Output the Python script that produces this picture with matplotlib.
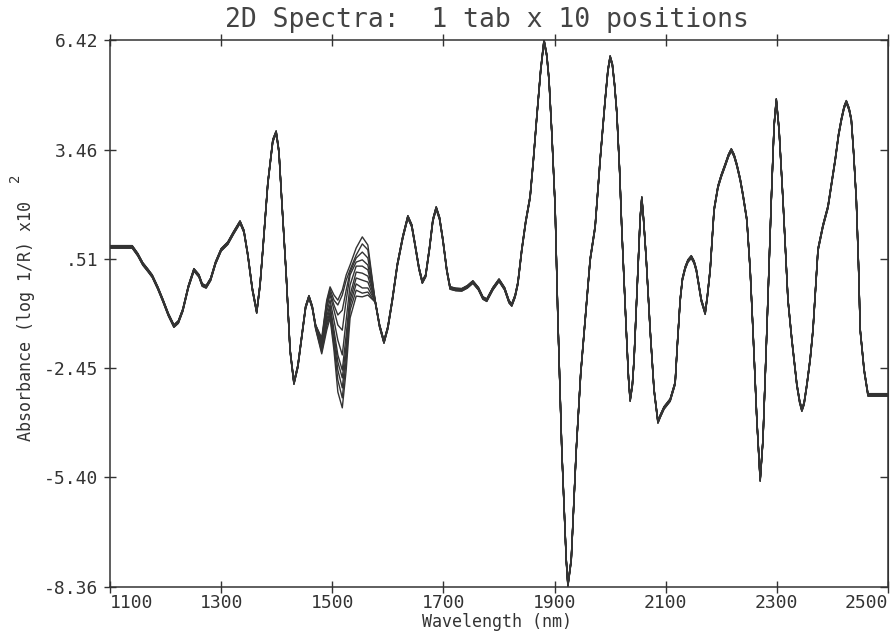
import numpy as np
import matplotlib
matplotlib.use("Agg")
import matplotlib.pyplot as plt

# shared part of the 10 spectra, before the 1470-1577 nm region
nm_left = [1100, 1140, 1150, 1159, 1168, 1176, 1186, 1195, 1205, 1215,
           1223, 1231, 1241, 1251, 1260, 1266, 1273, 1281, 1290, 1300,
           1312, 1322, 1334, 1341, 1348, 1356, 1364, 1370, 1375, 1384,
           1393, 1399, 1404, 1409, 1417, 1424, 1431, 1438, 1445, 1452,
           1458, 1464]
abs_left = [0.83, 0.83, 0.62, 0.37, 0.20, 0.04, -0.28, -0.61, -1.00, -1.31,
            -1.20, -0.88, -0.25, 0.21, 0.05, -0.20, -0.25, -0.05, 0.40, 0.75,
            0.93, 1.20, 1.50, 1.25, 0.61, -0.30, -0.93, -0.20, 0.75, 2.55,
            3.70, 3.93, 3.40, 2.10, 0.10, -1.96, -2.85, -2.40, -1.60, -0.80,
            -0.52, -0.80]

# region where the positions differ
nm_mid = [1470, 1481, 1490, 1496, 1503, 1510, 1518, 1525, 1532, 1543, 1554, 1564, 1577]
pos1 = [-1.28, -1.63, -0.61, -0.25, -0.47, -0.61, -0.34, 0.07, 0.34, 0.80, 1.10, 0.88, -0.61]
pos2 = [-1.28, -1.69, -0.66, -0.31, -0.61, -0.74, -0.47, -0.07, 0.21, 0.61, 0.91, 0.75, -0.61]
pos3 = [-1.28, -1.71, -0.74, -0.39, -0.74, -1.01, -0.88, -0.34, 0.15, 0.53, 0.69, 0.53, -0.61]
pos4 = [-1.31, -1.74, -0.82, -0.47, -0.88, -1.28, -1.42, -0.61, 0.07, 0.42, 0.48, 0.34, -0.61]
pos5 = [-1.31, -1.79, -0.93, -0.61, -1.15, -1.69, -2.09, -1.15, -0.20, 0.31, 0.31, 0.21, -0.61]
pos6 = [-1.33, -1.85, -1.04, -0.74, -1.42, -2.09, -2.50, -1.55, -0.47, 0.15, 0.12, 0.04, -0.61]
pos7 = [-1.33, -1.90, -1.15, -0.82, -1.55, -2.28, -2.71, -1.82, -0.61, -0.01, -0.07, -0.12, -0.63]
pos8 = [-1.36, -1.96, -1.23, -0.93, -1.69, -2.50, -2.98, -2.01, -0.74, -0.17, -0.28, -0.28, -0.63]
pos9 = [-1.36, -2.01, -1.31, -1.01, -1.82, -2.77, -3.25, -2.23, -0.88, -0.34, -0.42, -0.39, -0.66]
pos10 = [-1.39, -2.06, -1.42, -1.09, -1.96, -3.09, -3.52, -2.50, -1.09, -0.50, -0.52, -0.47, -0.66]
positions = [pos1, pos2, pos3, pos4, pos5, pos6, pos7, pos8, pos9, pos10]

# shared part after the region
nm_right = [1585, 1593, 1600, 1608, 1617, 1627, 1636, 1643, 1649, 1656,
            1662, 1668, 1675, 1681, 1687, 1693, 1699, 1706, 1712, 1722,
            1733, 1743, 1753, 1763, 1771, 1778, 1789, 1800, 1810, 1818,
            1823, 1829, 1834, 1841, 1848, 1856, 1862, 1868, 1875, 1881,
            1886, 1890, 1895, 1901, 1906, 1913, 1921, 1924, 1930, 1939,
            1947, 1955, 1964, 1973, 1982, 1991, 1996, 2000, 2004, 2008,
            2012, 2017, 2021, 2029, 2033, 2036, 2040, 2043, 2050, 2054,
            2057, 2060, 2065, 2072, 2079, 2086, 2090, 2097, 2108, 2117,
            2121, 2126, 2130, 2135, 2140, 2146, 2151, 2155, 2160, 2164,
            2171, 2175, 2180, 2187, 2194, 2200, 2207, 2213, 2218, 2223,
            2228, 2234, 2239, 2246, 2252, 2257, 2264, 2270, 2275, 2282,
            2290, 2295, 2299, 2304, 2311, 2316, 2320, 2327, 2336, 2341,
            2345, 2349, 2354, 2360, 2365, 2370, 2374, 2383, 2392, 2398,
            2405, 2411, 2416, 2421, 2425, 2430, 2434, 2438, 2443, 2447,
            2450, 2457, 2464, 2500]
abs_right = [-1.30, -1.74, -1.35, -0.61, 0.34, 1.10, 1.64, 1.40, 0.88, 0.25,
             -0.12, 0.05, 0.80, 1.55, 1.88, 1.60, 1.02, 0.20, -0.28, -0.32,
             -0.33, -0.25, -0.12, -0.30, -0.55, -0.61, -0.30, -0.07, -0.30, -0.65,
             -0.74, -0.50, -0.15, 0.75, 1.50, 2.18, 3.20, 4.34, 5.60, 6.40,
             6.00, 5.34, 3.91, 1.91, -1.15, -4.66, -7.63, -8.31, -7.63, -4.66,
             -2.60, -1.15, 0.48, 1.37, 3.18, 4.80, 5.60, 5.96, 5.75, 5.20,
             4.45, 2.90, 1.29, -1.42, -2.70, -3.31, -2.90, -2.23, 0.20, 1.60,
             2.15, 1.60, 0.48, -1.42, -3.04, -3.90, -3.75, -3.52, -3.31, -2.85,
             -1.80, -0.61, -0.05, 0.26, 0.45, 0.56, 0.42, 0.21, -0.25, -0.61,
             -0.96, -0.50, 0.21, 1.83, 2.45, 2.75, 3.04, 3.30, 3.45, 3.30,
             3.04, 2.65, 2.23, 1.56, 0.20, -1.42, -3.85, -5.47, -4.39, -1.42,
             2.10, 4.10, 4.80, 3.99, 2.10, 0.60, -0.61, -1.69, -2.90, -3.35,
             -3.58, -3.40, -2.90, -2.20, -1.42, -0.20, 0.75, 1.40, 1.91, 2.50,
             3.18, 3.85, 4.26, 4.60, 4.75, 4.55, 4.26, 3.40, 2.10, 0.30,
             -1.42, -2.50, -3.17, -3.17]

# small spread between positions outside the region
spread = [0.035, -0.02, 0.01, 0.03, -0.035, 0.015, -0.01, 0.025, -0.03, 0.0]

yticks = [6.42, 3.46, 0.51, -2.45, -5.40, -8.36]
ytick_labels = ["6.42", "3.46", ".51", "-2.45", "-5.40", "-8.36"]
xticks = [1100, 1300, 1500, 1700, 1900, 2100, 2300, 2500]

ink = "#333333"
plt.rcParams["font.family"] = "DejaVu Sans Mono"

fig = plt.figure(figsize=(8.91, 6.35), dpi=100)
ax = fig.add_axes([110 / 891, 48 / 635, 778 / 891, 547 / 635])

for k in range(10):
    x = np.concatenate([nm_left, nm_mid, nm_right])
    y = np.concatenate([np.array(abs_left) + spread[k], positions[k],
                        np.array(abs_right) + spread[k]])
    ax.plot(x, y, color=ink, lw=1.0, solid_joinstyle="round")

ax.set_xlim(1100, 2500)
ax.set_ylim(-8.36, 6.42)
ax.set_xticks(xticks)
ax.set_yticks(yticks)
ax.set_yticklabels(ytick_labels)
for s in ax.spines.values():
    s.set_color(ink)
    s.set_linewidth(1.1)

ax.tick_params(axis="both", direction="inout", length=9, width=1.0,
               colors=ink, labelsize=13)
ax.tick_params(axis="x", top=True, length=8, pad=1)
ax.tick_params(axis="y", pad=4)
labs = ax.get_xticklabels()
labs[0].set_horizontalalignment("left")
labs[-1].set_horizontalalignment("right")

right = ax.secondary_yaxis("right")
right.set_yticks(yticks)
right.tick_params(direction="in", length=6, width=1.0, colors=ink, labelright=False)
right.spines["right"].set_color(ink)

fig.text(487 / 891, 1 - 20 / 635, "2D Spectra:  1 tab x 10 positions",
         ha="center", va="center", fontsize=19, color="#444444")
fig.text(497 / 891, 1 - 622 / 635, "Wavelength (nm)", ha="center", va="center",
         fontsize=12, color=ink)
fig.text(26 / 891, 1 - 321 / 635, "Absorbance (log 1/R) x10", rotation=90,
         ha="center", va="center", fontsize=12, color=ink)
fig.text(15 / 891, 1 - 178 / 635, "2", rotation=90, ha="center", va="center",
         fontsize=10, color=ink)

fig.savefig("out.png", dpi=100)
